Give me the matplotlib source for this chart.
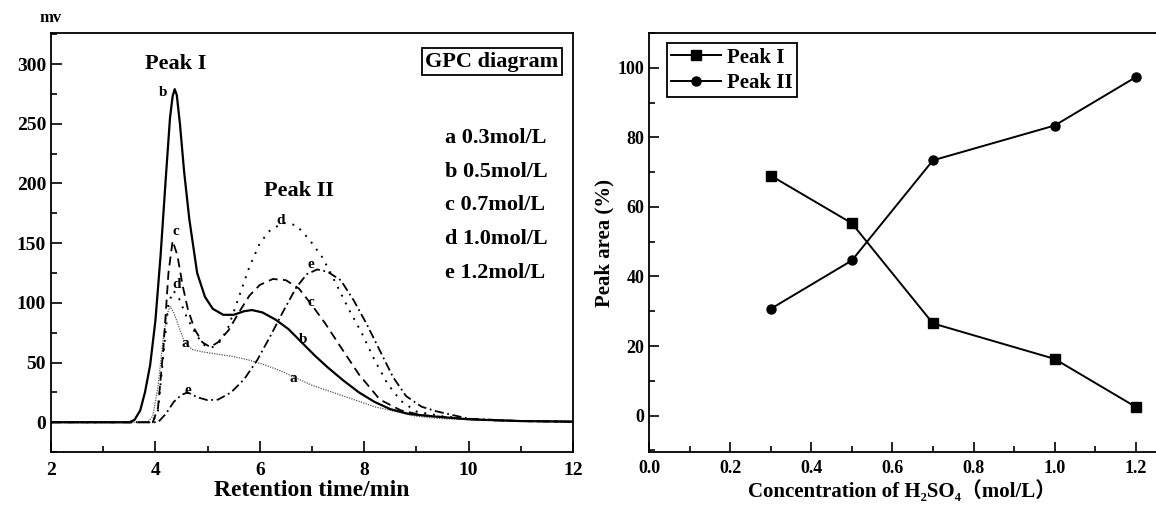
import matplotlib
matplotlib.use("Agg")
import matplotlib.pyplot as plt
from matplotlib.ticker import MultipleLocator

plt.rcParams['font.family'] = ['Liberation Serif', 'Noto Sans CJK SC', 'DejaVu Sans']
plt.rcParams['font.weight'] = 'bold'

# ---- GPC curves (retention time in min, signal in mV) ----
t_a = [2.0, 3.85, 3.95, 4.05, 4.15, 4.22, 4.28, 4.35, 4.45, 4.55, 4.7, 4.9, 5.2, 5.5,
       5.8, 6.1, 6.4, 6.7, 7.0, 7.4, 7.8, 8.2, 8.6, 9.0, 9.5, 10.5, 12.0]
mv_a = [0, 0, 5, 30, 70, 90, 97, 92, 80, 68, 61, 59, 57, 55,
        52, 48, 43, 37, 31, 25, 19, 13, 9, 5, 3, 1.5, 0.5]

t_b = [2.0, 3.5, 3.6, 3.71, 3.8, 3.9, 4.0, 4.1, 4.2, 4.28, 4.33, 4.37, 4.41, 4.47, 4.55,
       4.65, 4.8, 4.95, 5.1, 5.3, 5.5, 5.7, 5.85, 6.05, 6.3, 6.55, 6.8, 7.05, 7.3, 7.6,
       7.9, 8.2, 8.5, 8.85, 9.3, 10.0, 11.0, 12.0]
mv_b = [0, 0, 2, 10, 25, 48, 85, 140, 205, 255, 273, 279, 274, 250, 210,
        170, 125, 105, 95, 90, 90, 93, 94, 92, 86, 78, 67, 56, 46, 35,
        25, 17, 11, 7, 5, 2.5, 1, 0.5]

t_c = [2.0, 3.95, 4.05, 4.15, 4.25, 4.33, 4.42, 4.52, 4.62, 4.75, 4.9, 5.05, 5.2, 5.4,
       5.6, 5.8, 6.0, 6.25, 6.5, 6.75, 7.0, 7.25, 7.55, 7.9, 8.3, 8.7, 9.1, 9.6, 10.2,
       11.0, 12.0]
mv_c = [0, 0, 12, 60, 125, 152, 140, 115, 95, 78, 67, 63, 67, 77,
        92, 106, 115, 120, 119, 112, 98, 83, 63, 40, 19, 10, 6, 4, 2,
        1, 0.5]

t_d = [2.0, 3.95, 4.05, 4.15, 4.25, 4.35, 4.45, 4.6, 4.8, 4.95, 5.1, 5.25, 5.4, 5.6,
       5.8, 6.0, 6.2, 6.45, 6.7, 6.95, 7.2, 7.45, 7.7, 7.95, 8.2, 8.45, 8.7, 9.0, 9.5,
       10.2, 11.0, 12.0]
mv_d = [0, 0, 10, 55, 100, 110, 104, 88, 72, 64, 63, 68, 80, 105,
        130, 150, 161, 167, 165, 153, 138, 117, 95, 75, 52, 32, 18, 9, 5,
        2, 1, 0.5]

t_e = [2.0, 4.05, 4.2, 4.35, 4.5, 4.62, 4.8, 5.0, 5.2, 5.45, 5.7, 5.95, 6.2, 6.45,
       6.7, 6.9, 7.1, 7.3, 7.55, 7.8, 8.05, 8.3, 8.55, 8.8, 9.1, 9.4, 10.0, 11.0, 12.0]
mv_e = [0, 0, 7, 17, 23, 25, 21, 18.5, 19, 25, 36, 52, 72, 93,
        113, 124, 128, 126, 119, 102, 82, 60, 38, 22, 13, 9, 3, 1, 0.5]

legend_lines = ["a 0.3mol/L", "b 0.5mol/L", "c 0.7mol/L", "d 1.0mol/L", "e 1.2mol/L"]

# ---- peak areas ----
conc = [0.3, 0.5, 0.7, 1.0, 1.2]
peak1 = [69.0, 55.3, 26.5, 16.3, 2.5]
peak2 = [30.7, 44.6, 73.4, 83.4, 97.3]

fig = plt.figure(figsize=(11.56, 5.08), dpi=100)

# ===== LEFT: GPC diagram =====
ax1 = fig.add_axes([0.0441, 0.110, 0.4516, 0.825])
ax1.plot(t_a, mv_a, color='#555555', lw=0.9, linestyle=(0, (1, 1)))
ax1.plot(t_b, mv_b, color='black', lw=1.6, linestyle='-')
ax1.plot(t_c, mv_c, color='black', lw=1.3, linestyle=(0, (5, 3)))
ax1.plot(t_d, mv_d, color='black', lw=1.4, linestyle=(0, (1, 3.5)))
ax1.plot(t_e, mv_e, color='black', lw=1.3, linestyle=(0, (5, 2, 1, 2)))

ax1.set_xlim(2, 12)
ax1.set_ylim(-25, 326)
ax1.xaxis.set_major_locator(MultipleLocator(2))
ax1.xaxis.set_minor_locator(MultipleLocator(1))
ax1.yaxis.set_major_locator(MultipleLocator(50))
ax1.yaxis.set_minor_locator(MultipleLocator(25))
ax1.tick_params(which='both', direction='in', width=1.2, labelsize=14)
ax1.tick_params(which='major', length=8)
ax1.tick_params(which='minor', length=4.5)
ax1.tick_params(axis='x', pad=7)
for sp in ax1.spines.values():
    sp.set_linewidth(1.3)
ax1.set_xlabel('Retention time/min', fontsize=17, fontweight='bold', labelpad=1)
ax1.text(0.0, 1.036, 'mv', transform=ax1.transAxes, ha='center', va='center',
         fontsize=12, fontweight='bold')

ax1.text(4.38, 300, 'Peak I', ha='center', va='center', fontsize=16, fontweight='bold')
ax1.text(6.75, 194, 'Peak II', ha='center', va='center', fontsize=16, fontweight='bold')
ax1.text(10.44, 302, 'GPC diagram', ha='center', va='center', fontsize=16,
         fontweight='bold',
         bbox=dict(boxstyle='square,pad=0.15', facecolor='white', edgecolor='black', lw=1.3))
for i, s in enumerate(legend_lines):
    ax1.text(9.54, 238 - i * 28.2, s, ha='left', va='center', fontsize=16, fontweight='bold')

curve_labels = [("b", 4.15, 276), ("c", 4.4, 160), ("d", 4.4, 115), ("a", 4.58, 66),
                ("e", 4.63, 27), ("d", 6.4, 169), ("e", 6.98, 132), ("c", 6.98, 100),
                ("b", 6.82, 69), ("a", 6.65, 37)]
for s, x, y in curve_labels:
    ax1.text(x, y, s, ha='center', va='center', fontsize=11, fontweight='bold')

# ===== RIGHT: peak areas =====
ax2 = fig.add_axes([0.5615, 0.110, 0.4385, 0.825])
ax2.plot(conc, peak1, color='black', lw=1.4, marker='s', markersize=7, label='Peak I')
ax2.plot(conc, peak2, color='black', lw=1.4, marker='o', markersize=6.5, label='Peak II')
ax2.set_xlim(0, 1.25)
ax2.set_ylim(-10.5, 110)
ax2.xaxis.set_major_locator(MultipleLocator(0.2))
ax2.xaxis.set_minor_locator(MultipleLocator(0.1))
ax2.yaxis.set_major_locator(MultipleLocator(20))
ax2.yaxis.set_minor_locator(MultipleLocator(10))
ax2.tick_params(which='both', direction='in', width=1.2, labelsize=13)
ax2.tick_params(which='major', length=7)
ax2.tick_params(which='minor', length=4)
ax2.tick_params(axis='x', pad=6)
for sp in ax2.spines.values():
    sp.set_linewidth(1.3)
ax2.spines['right'].set_visible(False)
ax2.set_ylabel('Peak area (%)', fontsize=15, fontweight='bold', labelpad=2)
ax2.set_xlabel('Concentration of H\u2082SO\u2084\uff08mol/L\uff09', fontsize=15,
               fontweight='bold', labelpad=2)
leg = ax2.legend(loc='upper left', bbox_to_anchor=(0.035, 0.975), fontsize=15,
                 frameon=True, fancybox=False, edgecolor='black', framealpha=1,
                 handlelength=2.4, borderpad=0.2, labelspacing=0.25,
                 handletextpad=0.3, borderaxespad=0)
leg.get_frame().set_linewidth(1.3)

fig.savefig('out.png', dpi=100, facecolor='white')
